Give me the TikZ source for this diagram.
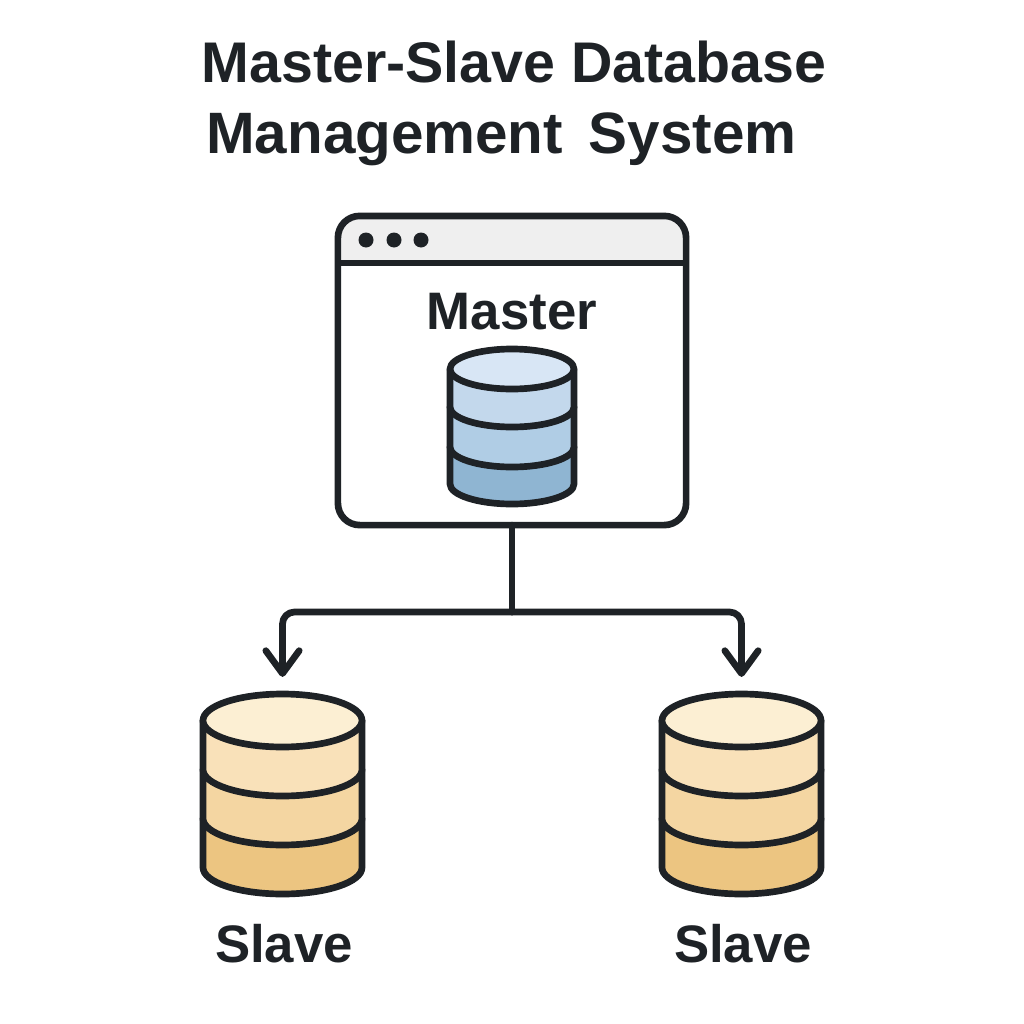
\documentclass[tikz,border=0pt]{standalone}
\usepackage{fontspec}
\setmainfont{Liberation Sans}
\usetikzlibrary{positioning,arrows.meta}

\definecolor{inkc}{HTML}{1E2226}
\definecolor{barc}{HTML}{EFEFEF}
\definecolor{blueA}{HTML}{D8E6F5}
\definecolor{blueB}{HTML}{C3D8EC}
\definecolor{blueC}{HTML}{B0CDE5}
\definecolor{blueD}{HTML}{8FB5D2}
\definecolor{sandA}{HTML}{FCEFD3}
\definecolor{sandB}{HTML}{F9E1B9}
\definecolor{sandC}{HTML}{F4D6A2}
\definecolor{sandD}{HTML}{ECC581}

\tikzset{
    heavy/.style={draw=inkc, line width=1.9pt, line join=round},
    link/.style={heavy, line cap=round, rounded corners=3.4pt},
    titletext/.style={anchor=base, text=inkc, font=\fontsize{16.3}{18}\selectfont\bfseries},
    labeltext/.style={anchor=base, text=inkc, font=\fontsize{15}{18}\selectfont\bfseries},
    dbarea/.style={inner sep=0pt, outer sep=0pt}
}

% centre x, half width, half height, the four levels, colour prefix
\newcommand{\dbstack}[8]{
    \filldraw[heavy, fill=#8D] ({#1-#2},-#6) -- ({#1-#2},-#7) arc[start angle=180, end angle=360, x radius=#2, y radius=#3] -- ({#1+#2},-#6) -- cycle;
    \filldraw[heavy, fill=#8C] ({#1-#2},-#5) -- ({#1-#2},-#6) arc[start angle=180, end angle=360, x radius=#2, y radius=#3] -- ({#1+#2},-#5) -- cycle;
    \filldraw[heavy, fill=#8B] ({#1-#2},-#4) -- ({#1-#2},-#5) arc[start angle=180, end angle=360, x radius=#2, y radius=#3] -- ({#1+#2},-#4) -- cycle;
    \filldraw[heavy, fill=#8A] (#1,-#4) ellipse[x radius=#2, y radius=#3];
}

\begin{document}
\begin{tikzpicture}[x=0.01cm, y=0.01cm]
    \useasboundingbox (0,-1024) rectangle (1024,0);

    % Title
    \node[titletext] (title1) at (514,-82) {Master-Slave Database};
    \node[titletext, font=\fontsize{16.6}{18}\selectfont\bfseries] (title2) at (501.5,-153) {Management\, System};

    % Master window
    \node[dbarea, minimum width=3.48cm, minimum height=3.09cm] (master) at (512,-370.5) {};
    \fill[white, rounded corners=6.2pt] (master.south west) rectangle (master.north east);
    \fill[barc, rounded corners=6.2pt] (338,-263) rectangle (686,-216);
    \fill[barc] (338,-263) rectangle (686,-240);
    \draw[heavy, rounded corners=6.2pt] (master.south west) rectangle (master.north east);
    \draw[heavy] (master.west |- 0,-263) -- (master.east |- 0,-263);
    \foreach \dotx in {366,394,421}
        \fill[inkc] (\dotx,-240) circle[radius=7.5];
    \node[labeltext] (masterlabel) at (512,-329) {Master};

    % Databases
    \dbstack{512}{62}{20}{369}{407}{447}{484}{blue}
    \dbstack{282.5}{79.5}{26.5}{720.5}{769.5}{818.5}{867.5}{sand}
    \dbstack{741.5}{79.5}{26.5}{720.5}{769.5}{818.5}{867.5}{sand}

    \node[dbarea, minimum width=1.65cm, minimum height=2.06cm] (slaveA) at (282.5,-794) {};
    \node[dbarea, minimum width=1.65cm, minimum height=2.06cm] (slaveB) at (741.5,-794) {};

    \node[labeltext] (slaveAlabel) at (284,-962) {Slave};
    \node[labeltext] (slaveBlabel) at (743,-962) {Slave};

    % Connectors
    \coordinate (branch) at (512,-612);
    \draw[link] (master.south) -- (branch);
    \draw[link, -{Straight Barb[length=6.5pt, width=9.5pt, round]}, shorten >=4pt] (branch) -| (slaveA.north);
    \draw[link, -{Straight Barb[length=6.5pt, width=9.5pt, round]}, shorten >=4pt] (branch) -| (slaveB.north);
\end{tikzpicture}
\end{document}
